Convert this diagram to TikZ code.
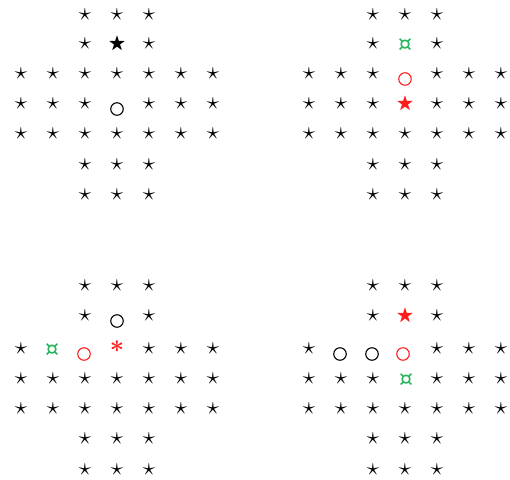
\documentclass[tikz,border=0pt]{standalone}
\usepackage{amssymb}
\usepackage{bm}
\usepackage{fontspec}
\newfontfamily\dejavu{DejaVu Sans}
\definecolor{pegred}{RGB}{255,30,30}
\definecolor{peggreen}{RGB}{40,180,90}
\newcommand\pegboard[4]{%
  \foreach \r/\cols in {#4} {
    \pgfmathsetmacro\yy{{#3}[\r-1]}
    \foreach \c in \cols {
      \node[peg] (#1-\r-\c) at ({#2+32*(\c-1)},\yy) {$\star$};
    }
  }%
}
\begin{document}
\begin{tikzpicture}[x=1pt,y=-1pt,
  peg/.style={inner sep=0pt, font=\fontsize{27}{30}\selectfont},
  bigpeg/.style={inner sep=0pt, font=\fontsize{18}{20}\selectfont},
  hole/.style={circle, draw, line width=1.1pt, minimum size=12.5pt, inner sep=0pt},
  gem/.style={inner sep=0pt, text=peggreen, font=\fontsize{22}{24}\selectfont\dejavu},
  spark/.style={inner sep=0pt, text=pegred, font=\fontsize{28}{30}\selectfont}]
\useasboundingbox (0,0) rectangle (510,479);
% top-left board
\pegboard{tl}{21}{15,44,74,104,134,165,195}{1/{3,4,5},2/{3,5},3/{1,2,3,4,5,6,7},4/{1,2,3,5,6,7},5/{1,2,3,4,5,6,7},6/{3,4,5},7/{3,4,5}}
\node[bigpeg] (tl-2-4) at (117,44) {$\bigstar$};
\node[hole] (tl-4-4) at (117,109) {};
% top-right board
\pegboard{tr}{309}{15,44,74,104,134,165,195}{1/{3,4,5},2/{3,5},3/{1,2,3,5,6,7},4/{1,2,3,5,6,7},5/{1,2,3,4,5,6,7},6/{3,4,5},7/{3,4,5}}
\node[gem] (tr-2-4) at (405,45) {¤};
\node[hole, draw=pegred] (tr-3-4) at (405,79) {};
\node[bigpeg, text=pegred] (tr-4-4) at (405,104) {$\bigstar$};
% bottom-left board
\pegboard{bl}{21}{286,316,349,379,409,439,470}{1/{3,4,5},2/{3,5},3/{1,5,6,7},4/{1,2,3,4,5,6,7},5/{1,2,3,4,5,6,7},6/{3,4,5},7/{3,4,5}}
\node[hole] (bl-2-4) at (117,321) {};
\node[gem] (bl-3-2) at (52,350) {¤};
\node[hole, draw=pegred] (bl-3-3) at (84,354) {};
\node[spark] (bl-3-4) at (117,347) {$\bm{\ast}$};
% bottom-right board
\pegboard{br}{309}{286,316,349,379,409,439,470}{1/{3,4,5},2/{3,5},3/{1,5,6,7},4/{1,2,3,5,6,7},5/{1,2,3,4,5,6,7},6/{3,4,5},7/{3,4,5}}
\node[bigpeg, text=pegred] (br-2-4) at (405,316) {$\bigstar$};
\node[hole] (br-3-2) at (340,354) {};
\node[hole] (br-3-3) at (372,354) {};
\node[hole, draw=pegred] (br-3-4) at (403,354) {};
\node[gem] (br-4-4) at (406,380) {¤};
\end{tikzpicture}
\end{document}
